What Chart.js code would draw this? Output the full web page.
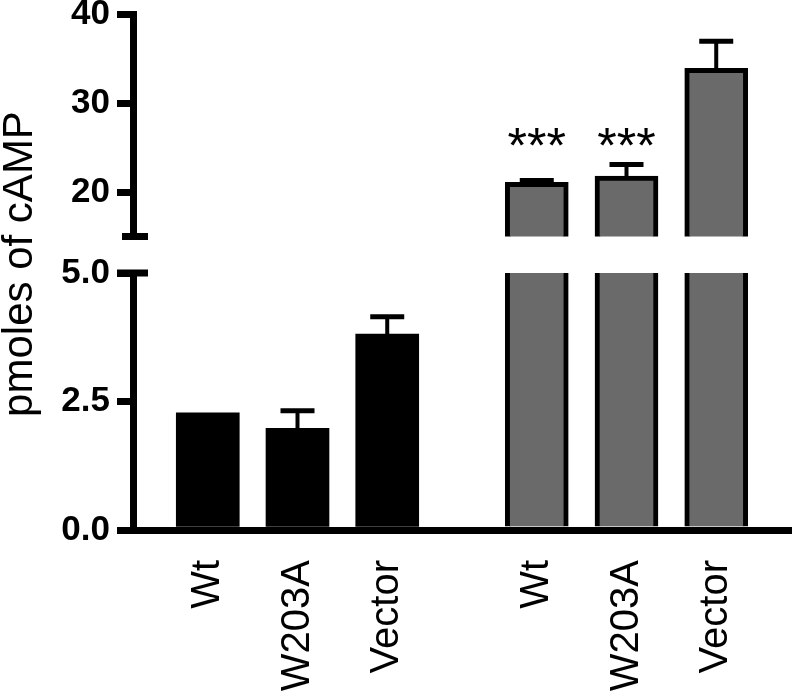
<!DOCTYPE html>
<html>
<head>
<meta charset="utf-8">
<script src="https://cdn.jsdelivr.net/npm/chart.js@4.4.1/dist/chart.umd.min.js"></script>
<style>
  body { margin: 0; background: #fff; }
  #wrap { position: relative; width: 797px; height: 699px; }
  #wrap canvas { position: absolute; left: 0; top: 0; }
</style>
</head>
<body>
<div id="wrap">
  <canvas id="lowerChart" width="797" height="699"></canvas>
  <canvas id="upperChart" width="797" height="699"></canvas>
</div>
<script>
// pmoles of cAMP, basal (black) and stimulated (gray) for each construct
const categories = ['Wt', 'W203A', 'Vector'];
const basalMeans = [2.28, 1.98, 3.81];
const basalSem   = [0, 0.34, 0.34];
const stimMeans  = [21.1, 21.8, 33.9];
const stimSem    = [0.2, 1.3, 3.05];
const stimStars  = ['***', '***', ''];

const lowerRange = [0, 5];
const upperRange = [15, 40];
const lowerTicks = [0, 2.5, 5];
const upperTicks = [20, 30, 40];
const yTitle = 'pmoles of cAMP';

// x layout: 22 narrow slots, a bar on every 3rd one and a wider gap between the two groups
const SLOT_COUNT = 22;
const basalSlots = [2, 5, 8];
const stimSlots = [13, 16, 19];

const FONT = "'Liberation Sans', Arial, Helvetica, sans-serif";
const AXIS_W = 133;
const LINE = 7;

function spread(values, slots) {
    const out = new Array(SLOT_COUNT).fill(null);
    slots.forEach((s, i) => { out[s] = values[i]; });
    return out;
}

const labels = new Array(SLOT_COUNT).fill('');
basalSlots.forEach((s, i) => { labels[s] = categories[i]; });
stimSlots.forEach((s, i) => { labels[s] = categories[i]; });

function makeData() {
    return {
        labels: labels,
        datasets: [
            {
                label: 'basal',
                data: spread(basalMeans, basalSlots),
                errors: spread(basalSem, basalSlots),
                backgroundColor: '#000',
                borderWidth: 0,
                barThickness: 63,
                grouped: false,
                clip: 0
            },
            {
                label: 'stimulated',
                data: spread(stimMeans, stimSlots),
                errors: spread(stimSem, stimSlots),
                stars: spread(stimStars, stimSlots),
                backgroundColor: '#6a6a6a',
                borderColor: '#000',
                borderWidth: 5,
                barThickness: 63,
                grouped: false,
                clip: 0
            }
        ]
    };
}

// SEM whiskers, upward only
const errorBars = {
    id: 'errorBars',
    afterDatasetsDraw(chart) {
        const ctx = chart.ctx;
        const area = chart.chartArea;
        const y = chart.scales.y;
        ctx.save();
        ctx.beginPath();
        ctx.rect(area.left, area.top - 4, area.right - area.left, area.bottom - area.top + 4);
        ctx.clip();
        ctx.strokeStyle = '#000';
        chart.data.datasets.forEach((ds, di) => {
            const meta = chart.getDatasetMeta(di);
            meta.data.forEach((bar, i) => {
                const v = ds.data[i];
                const e = ds.errors[i];
                if (v == null || !e) return;
                const top = y.getPixelForValue(v + e);
                ctx.lineWidth = 4;
                ctx.beginPath();
                ctx.moveTo(bar.x, bar.y);
                ctx.lineTo(bar.x, top);
                ctx.stroke();
                ctx.lineWidth = 5;
                ctx.beginPath();
                ctx.moveTo(bar.x - 17, top);
                ctx.lineTo(bar.x + 17, top);
                ctx.stroke();
            });
        });
        ctx.restore();
    }
};

// significance stars, all on one line above the highest whisker they belong to
const stars = {
    id: 'stars',
    afterDatasetsDraw(chart) {
        const ctx = chart.ctx;
        const y = chart.scales.y;
        const marks = [];
        chart.data.datasets.forEach((ds, di) => {
            if (!ds.stars) return;
            const meta = chart.getDatasetMeta(di);
            meta.data.forEach((bar, i) => {
                if (!ds.stars[i]) return;
                marks.push({ x: bar.x, text: ds.stars[i], cap: y.getPixelForValue(ds.data[i] + ds.errors[i]) });
            });
        });
        if (!marks.length) return;
        const base = Math.min(...marks.map(m => m.cap)) - 1;
        ctx.save();
        ctx.fillStyle = '#000';
        ctx.font = '50px ' + FONT;
        ctx.textAlign = 'center';
        ctx.textBaseline = 'alphabetic';
        marks.forEach(m => ctx.fillText(m.text, m.x, base));
        ctx.restore();
    }
};

// short crossbar where the y axis is cut
const axisBreak = {
    id: 'axisBreak',
    afterDraw(chart, args, opts) {
        const a = chart.chartArea;
        const ctx = chart.ctx;
        const yy = opts.edge === 'bottom' ? a.bottom : a.top;
        ctx.save();
        ctx.fillStyle = '#000';
        ctx.fillRect(a.left - opts.left, yy - LINE / 2, opts.left + opts.right, LINE);
        ctx.restore();
    }
};

const axisTitle = {
    id: 'axisTitle',
    afterDraw(chart, args, opts) {
        if (!opts.text) return;
        const ctx = chart.ctx;
        ctx.save();
        ctx.translate(opts.x, opts.y);
        ctx.rotate(-Math.PI / 2);
        ctx.fillStyle = '#000';
        ctx.font = '42px ' + FONT;
        ctx.textAlign = 'center';
        ctx.textBaseline = 'alphabetic';
        ctx.fillText(opts.text, 0, 0);
        ctx.restore();
    }
};

function makeOptions(part) {
    const upper = part === 'upper';
    const range = upper ? upperRange : lowerRange;
    return {
        responsive: false,
        animation: false,
        events: [],
        layout: {
            padding: upper ? { top: 14, bottom: 462.5, left: 0, right: 6 }
                           : { top: 273, bottom: 0, left: 0, right: 6 }
        },
        plugins: {
            legend: { display: false },
            tooltip: { enabled: false },
            axisBreak: upper ? { edge: 'bottom', left: 11, right: 15 } : { edge: 'top', left: 16, right: 15 },
            axisTitle: upper ? {} : { text: yTitle, x: 32, y: 264 }
        },
        scales: {
            x: {
                display: !upper,
                z: 1,
                grid: { drawOnChartArea: false, drawTicks: false },
                border: { display: true, width: LINE, color: '#000' },
                ticks: {
                    autoSkip: false,
                    minRotation: 90,
                    maxRotation: 90,
                    padding: 30,
                    color: '#000',
                    font: { family: FONT, size: 40 }
                },
                afterFit(s) {
                    if (upper) return;
                    s.height = 169;
                    s.paddingLeft = 0;
                    s.paddingRight = 0;
                }
            },
            y: {
                min: range[0],
                max: range[1],
                grid: { drawOnChartArea: false, drawTicks: true, tickLength: 16, lineWidth: LINE, color: '#000' },
                border: { width: LINE, color: '#000' },
                ticks: {
                    padding: 7,
                    color: '#000',
                    font: { family: FONT, size: 35, weight: 'bold' },
                    callback: v => upper ? String(v) : v.toFixed(1)
                },
                afterBuildTicks(s) {
                    s.ticks = (upper ? upperTicks : lowerTicks).map(v => ({ value: v }));
                },
                afterFit(s) { s.width = AXIS_W; s.paddingTop = 0; s.paddingBottom = 0; }
            }
        }
    };
}

document.addEventListener('DOMContentLoaded', function() {
    new Chart(document.getElementById('lowerChart'), {
        type: 'bar',
        data: makeData(),
        options: makeOptions('lower'),
        plugins: [errorBars, axisBreak, axisTitle]
    });
    new Chart(document.getElementById('upperChart'), {
        type: 'bar',
        data: makeData(),
        options: makeOptions('upper'),
        plugins: [errorBars, stars, axisBreak]
    });
});
</script>
</body>
</html>
